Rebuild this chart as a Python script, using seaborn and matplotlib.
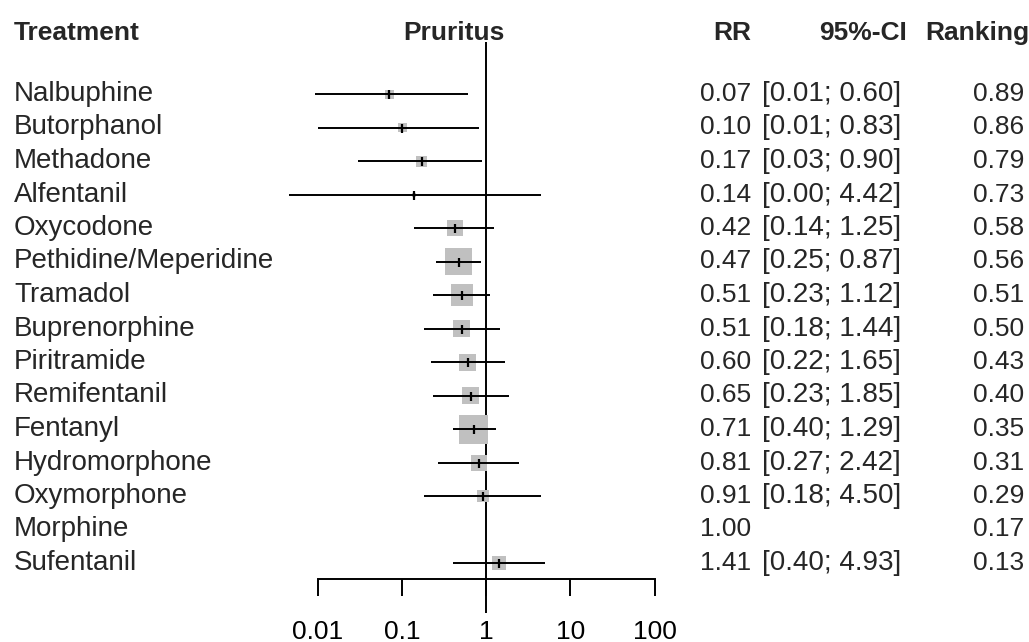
"""Pruritus forest plot (network meta-analysis, RR vs morphine)"""
import matplotlib
matplotlib.use("Agg")
import matplotlib.pyplot as plt
import matplotlib.transforms as mtransforms
from matplotlib.ticker import NullLocator
import numpy as np
import pandas as pd
import seaborn as sns

treatments = [
    "Nalbuphine", "Butorphanol", "Methadone", "Alfentanil", "Oxycodone",
    "Pethidine/Meperidine", "Tramadol", "Buprenorphine", "Piritramide",
    "Remifentanil", "Fentanyl", "Hydromorphone", "Oxymorphone", "Morphine",
    "Sufentanil",
]
rr = [0.07, 0.10, 0.17, 0.14, 0.42, 0.47, 0.51, 0.51, 0.60, 0.65, 0.71, 0.81, 0.91, 1.00, 1.41]
ci_low = [0.0093, 0.01, 0.03, 0.0045, 0.14, 0.25, 0.23, 0.18, 0.22, 0.23, 0.40, 0.27, 0.18, np.nan, 0.40]
ci_high = [0.60, 0.83, 0.90, 4.42, 1.25, 0.87, 1.12, 1.44, 1.65, 1.85, 1.29, 2.42, 4.50, np.nan, 4.93]
ci_text = [
    "[0.01; 0.60]", "[0.01; 0.83]", "[0.03; 0.90]", "[0.00; 4.42]", "[0.14; 1.25]",
    "[0.25; 0.87]", "[0.23; 1.12]", "[0.18; 1.44]", "[0.22; 1.65]", "[0.23; 1.85]",
    "[0.40; 1.29]", "[0.27; 2.42]", "[0.18; 4.50]", "", "[0.40; 4.93]",
]
ranking = [0.89, 0.86, 0.79, 0.73, 0.58, 0.56, 0.51, 0.50, 0.43, 0.40, 0.35, 0.31, 0.29, 0.17, 0.13]
# box size ~ weight (relative)
weight = [9, 9, 11, 4, 16, 27, 22, 17, 17, 17, 29, 16, 12, 0, 14]
xticks = [0.01, 0.1, 1, 10, 100]
xtick_labels = ["0.01", "0.1", "1", "10", "100"]

df = pd.DataFrame({
    "treatment": treatments, "rr": rr, "lo": ci_low, "hi": ci_high,
    "ci": ci_text, "rank": ranking, "w": weight,
})
df["row"] = np.arange(len(df))

sns.set_theme(style="white")
plt.rcParams["font.family"] = ["Liberation Sans", "DejaVu Sans"]
FS = 19

W, H = 1029, 642
fig = plt.figure(figsize=(W / 100, H / 100), dpi=100)
ax = fig.add_axes([0, 0, 1, 1])

# layout (pixels)
px_lo, px_hi = 318, 654.5
dec = (px_hi - px_lo) / 4
ax.set_xscale("log")
ax.set_xlim(10 ** (-2 - px_lo / dec), 10 ** (2 + (W - px_hi) / dec))
row0, step = 94, 33.5
ax.set_ylim((H - row0) / step, -row0 / step)

# reference line at RR = 1
ax.vlines(1, (42 - row0) / step, (613 - row0) / step, color="black", lw=1.4, zorder=1)

d = df.dropna(subset=["lo"])
ax.hlines(d["row"], d["lo"], d["hi"], color="black", lw=1.4, zorder=3)
sns.scatterplot(data=d, x="rr", y="row", marker="s", s=(d["w"] * 0.72) ** 2,
                color="#c0c0c0", linewidth=0, legend=False, ax=ax, zorder=2)
ax.scatter(d["rr"], d["row"], marker="|", s=(9 * 0.72) ** 2, color="black",
           linewidths=1.6, zorder=4)
ax.set_xlabel("")
ax.set_ylabel("")

# x axis
for s in ["top", "left", "right"]:
    ax.spines[s].set_visible(False)
ax.spines["bottom"].set_position(("data", (579.3 - row0) / step))
ax.spines["bottom"].set_bounds(0.01, 100)
ax.spines["bottom"].set_linewidth(1.4)
ax.spines["bottom"].set_color("black")
ax.set_xticks(xticks)
ax.set_xticklabels(xtick_labels)
ax.xaxis.set_minor_locator(NullLocator())
ax.set_yticks([])
ax.tick_params(axis="x", bottom=True, direction="out", length=12, width=1.4,
               pad=17, labelsize=FS, color="black", labelcolor="black")

# text columns
tr = mtransforms.blended_transform_factory(fig.transFigure, ax.transData)
hy = (33 - row0) / step
hdr = dict(transform=tr, va="center", fontsize=FS, fontweight="bold")
ax.text(14 / W, hy, "Treatment", ha="left", **hdr)
ax.text(454 / W, hy, "Pruritus", ha="center", **hdr)
ax.text(751 / W, hy, "RR", ha="right", **hdr)
ax.text(907 / W, hy, "95%-CI", ha="right", fontstretch="expanded", **hdr)
ax.text(1029 / W, hy, "Ranking", ha="right", **hdr)
for _, r in df.iterrows():
    ax.text(14 / W, r["row"], r["treatment"], transform=tr, ha="left", va="center", fontsize=20)
    ax.text(751 / W, r["row"], f"{r['rr']:.2f}", transform=tr, ha="right", va="center", fontsize=FS)
    ax.text(831.5 / W, r["row"], r["ci"], transform=tr, ha="center", va="center", fontsize=20)
    ax.text(1024 / W, r["row"], f"{r['rank']:.2f}", transform=tr, ha="right", va="center", fontsize=FS)

fig.savefig("out.png", dpi=100, facecolor="white")
plt.close(fig)
